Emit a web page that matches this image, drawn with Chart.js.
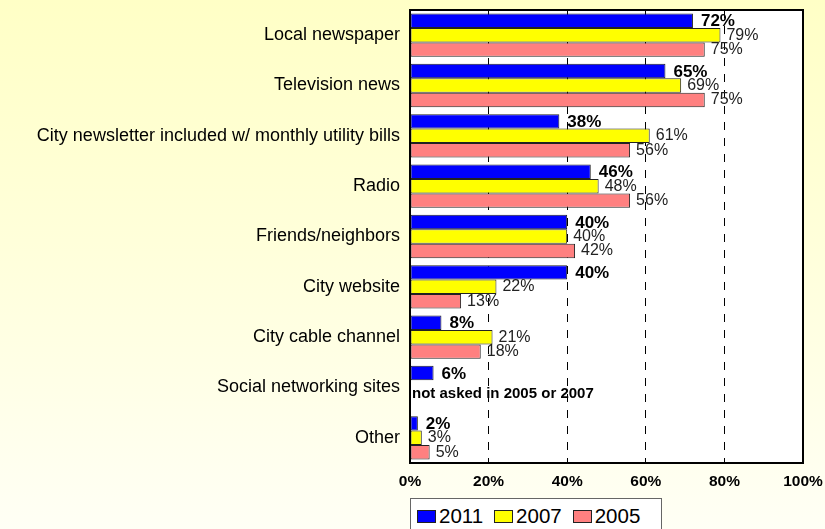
<!DOCTYPE html>
<html>
<head>
<meta charset="utf-8">
<script src="https://cdn.jsdelivr.net/npm/chart.js@4/dist/chart.umd.min.js"></script>
<style>
  html, body { margin: 0; padding: 0; }
  body {
    width: 825px; height: 529px; overflow: hidden; position: relative;
    background: linear-gradient(to bottom, #ffffc6 0%, #ffffdc 50%, #fffff5 100%);
    font-family: "Liberation Sans", Arial, sans-serif;
  }
  #wrap { position: absolute; left: 0; top: 0; width: 825px; height: 529px; }
  #legend {
    position: absolute; left: 410px; top: 498px; width: 252px; height: 36px;
    background: #fff; border: 1px solid #666; box-sizing: border-box;
    display: flex; align-items: center; padding-left: 6px;
  }
  .item { display: flex; align-items: center; margin-right: 11px; font-size: 20.5px; color: #000; }
  .sw { width: 17px; height: 11px; border: 1px solid #222; margin-right: 3px; }
</style>
</head>
<body>
<div id="wrap"><canvas id="chart" width="825" height="529"></canvas></div>
<div id="legend"></div>
<script>
// Categories and values (percent)
const categories = [
  "Local newspaper",
  "Television news",
  "City newsletter included w/ monthly utility bills",
  "Radio",
  "Friends/neighbors",
  "City website",
  "City cable channel",
  "Social networking sites",
  "Other"
];
const years = ["2011", "2007", "2005"];
const values2011 = [72, 65, 38, 46, 40, 40, 8, 6, 2];
const values2007 = [79, 69, 61, 48, 40, 22, 21, null, 3];
const values2005 = [75, 75, 56, 56, 42, 13, 18, null, 5];
const xTicks = [0, 20, 40, 60, 80, 100];
const colors = ["#0000ff", "#ffff00", "#ff8080"];
const notAskedNote = "not asked in 2005 or 2007";

const FONT = '"Liberation Sans", Arial, sans-serif';

// white plot area with black frame
const plotFrame = {
  id: "plotFrame",
  beforeDraw(chart) {
    const { ctx, chartArea: a } = chart;
    ctx.save();
    ctx.fillStyle = "#fff";
    ctx.fillRect(a.left, a.top, a.right - a.left, a.bottom - a.top);
    ctx.restore();
  },
  afterDraw(chart) {
    const { ctx, chartArea: a } = chart;
    ctx.save();
    ctx.strokeStyle = "#000";
    ctx.lineWidth = 2;
    ctx.strokeRect(a.left, a.top, a.right - a.left, a.bottom - a.top);
    ctx.restore();
  }
};

// value labels to the right of each bar
const barLabels = {
  id: "barLabels",
  afterDatasetsDraw(chart) {
    const { ctx } = chart;
    ctx.save();
    ctx.textBaseline = "middle";
    ctx.textAlign = "left";
    chart.data.datasets.forEach((ds, di) => {
      const meta = chart.getDatasetMeta(di);
      meta.data.forEach((bar, i) => {
        const v = ds.data[i];
        if (v === null) return;
        if (di === 0) {
          ctx.font = "bold 17px " + FONT;
          ctx.fillStyle = "#000";
          ctx.fillText(v + "%", bar.x + 8, bar.y + 1);
        } else {
          ctx.font = "16px " + FONT;
          ctx.fillStyle = "#222";
          ctx.fillText(v + "%", bar.x + 6, bar.y);
        }
      });
    });
    // note for the category with no earlier data
    const idx = values2007.indexOf(null);
    if (idx >= 0) {
      const y = chart.scales.y.getPixelForValue(idx);
      ctx.font = "bold 15px " + FONT;
      ctx.fillStyle = "#000";
      ctx.fillText(notAskedNote, chart.chartArea.left + 2, y + 6);
    }
    ctx.restore();
  }
};

function noPad(scale) {
  scale.paddingLeft = 0;
  scale.paddingRight = 0;
  scale.paddingTop = 0;
  scale.paddingBottom = 0;
}

const chart = new Chart(document.getElementById("chart"), {
  type: "bar",
  data: {
    labels: categories,
    datasets: [values2011, values2007, values2005].map((d, i) => ({
      label: years[i],
      data: d,
      backgroundColor: colors[i],
      borderColor: "#222",
      borderWidth: 1,
      borderSkipped: false,
      categoryPercentage: 0.86,
      barPercentage: 1
    }))
  },
  options: {
    indexAxis: "y",
    responsive: false,
    animation: false,
    layout: { padding: { top: 10, right: 22, bottom: 0, left: 0 } },
    plugins: { legend: { display: false }, tooltip: { enabled: false } },
    scales: {
      x: {
        min: 0, max: 100,
        afterBuildTicks(scale) { scale.ticks = xTicks.map(v => ({ value: v })); },
        afterFit(scale) { scale.height = 66; noPad(scale); },
        grid: { color: "#000", lineWidth: 1, drawTicks: false },
        border: { display: false, dash: [8, 8] },
        ticks: {
          padding: 9,
          color: "#000",
          font: { family: FONT, size: 15.5, weight: "bold" },
          callback: v => v + "%"
        }
      },
      y: {
        afterFit(scale) { scale.width = 410; noPad(scale); },
        grid: { display: false, drawTicks: false },
        border: { display: false },
        ticks: {
          padding: 10,
          color: "#000",
          font: { family: FONT, size: 18 }
        }
      }
    }
  },
  plugins: [plotFrame, barLabels]
});

// legend below the plot
const legend = document.getElementById("legend");
years.forEach((y, i) => {
  const item = document.createElement("div");
  item.className = "item";
  item.innerHTML = '<div class="sw" style="background:' + colors[i] + '"></div>' + y;
  legend.appendChild(item);
});
</script>
</body>
</html>
